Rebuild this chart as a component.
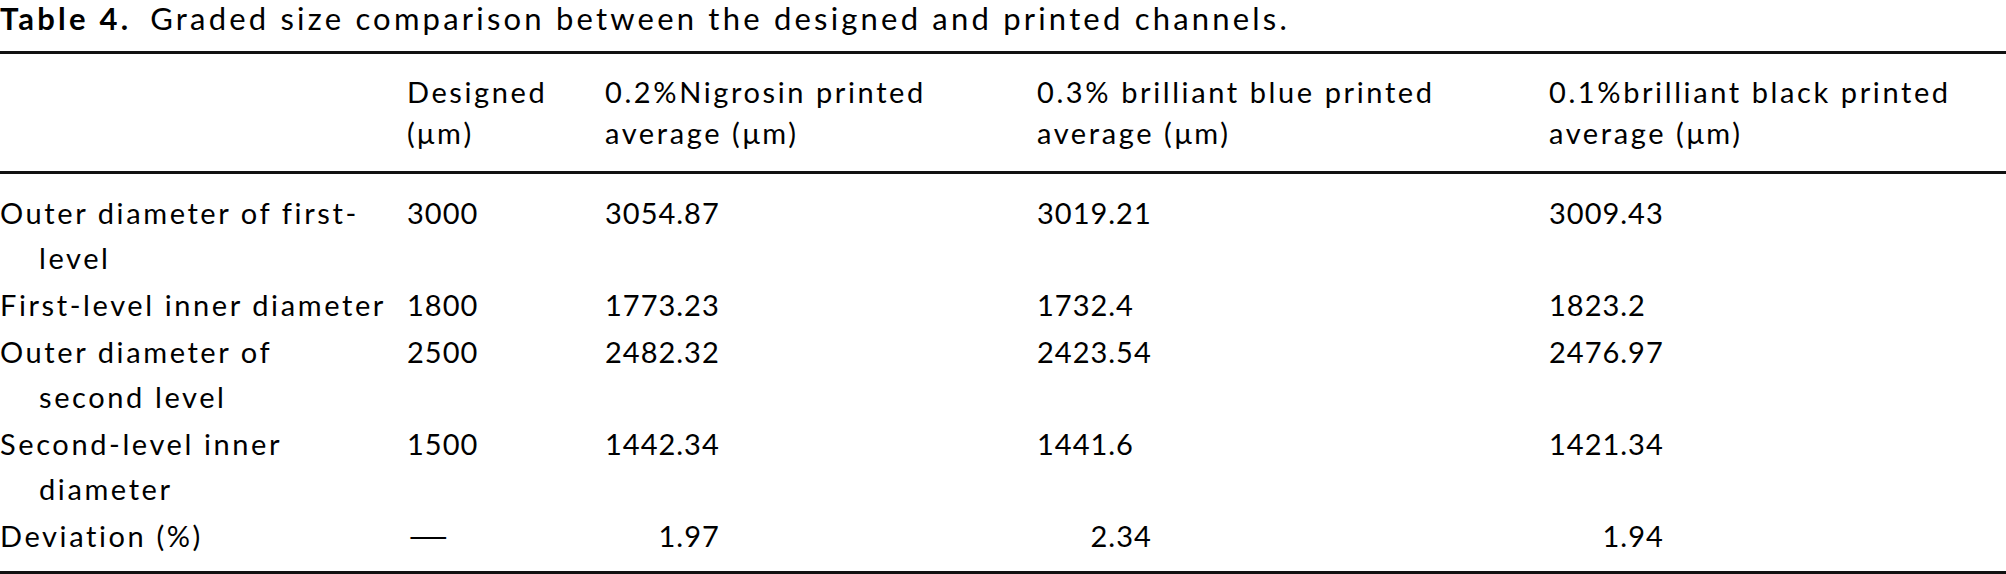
import React from "react";

// table content
const rowLabels = [
  ["Outer diameter of first-", "level"],
  ["First-level inner diameter"],
  ["Outer diameter of", "second level"],
  ["Second-level inner", "diameter"],
  ["Deviation (%)"],
];
const headers = [
  ["Designed", "(μm)"],
  ["0.2%Nigrosin printed", "average (μm)"],
  ["0.3% brilliant blue printed", "average (μm)"],
  ["0.1%brilliant black printed", "average (μm)"],
];
const designed = [3000, 1800, 2500, 1500, null];
const nigrosin = ["3054.87", "1773.23", "2482.32", "1442.34", "1.97"];
const brilliantBlue = ["3019.21", "1732.4", "2423.54", "1441.6", "2.34"];
const brilliantBlack = ["3009.43", "1823.2", "2476.97", "1421.34", "1.94"];

const COLS = "407px 198px 432px 512px 457px";
const FONT = "Lato, 'Gill Sans', 'Noto Sans', sans-serif";
const RULE = "3px solid #111";
const NUM: React.CSSProperties = { letterSpacing: 1 };

// the deviation row lines its decimal point up with the row above
function DecimalAligned({ value, above }: { value: string; above: string }) {
  const [int, frac] = value.split(".");
  const [aboveInt] = above.split(".");
  return (
    <span>
      <span style={{ display: "inline-grid" }}>
        <span style={{ gridArea: "1 / 1", visibility: "hidden" }}>{aboveInt}</span>
        <span style={{ gridArea: "1 / 1", textAlign: "right" }}>{int}</span>
      </span>
      {frac != null ? "." + frac : ""}
    </span>
  );
}

export default function App() {
  const valueCols = [designed.map(v => (v == null ? "—" : String(v))), nigrosin, brilliantBlue, brilliantBlack];
  const last = rowLabels.length - 1;

  return (
    <div
      style={{
        position: "absolute",
        left: 0,
        top: 0,
        width: 2006,
        height: 574,
        overflow: "hidden",
        background: "#fff",
        color: "#000",
        fontFamily: FONT,
        fontSize: 29,
        letterSpacing: 2.6,
      }}
    >
      <div style={{ fontSize: 31, lineHeight: "37.5px", letterSpacing: 3.2, whiteSpace: "nowrap" }}>
        <b>Table 4.</b>
        <span style={{ marginLeft: 19 }}>Graded size comparison between the designed and printed channels.</span>
      </div>

      {/* header */}
      <div
        style={{
          marginTop: 13.5,
          borderTop: RULE,
          borderBottom: RULE,
          paddingTop: 17,
          paddingBottom: 18,
          display: "grid",
          gridTemplateColumns: COLS,
          lineHeight: "41px",
          whiteSpace: "nowrap",
        }}
      >
        <div />
        {headers.map((h, i) => (
          <div key={i}>
            {h.map((line, j) => (
              <div key={j}>{line}</div>
            ))}
          </div>
        ))}
      </div>

      {/* body */}
      <div style={{ paddingTop: 15, paddingBottom: 12, borderBottom: RULE, lineHeight: "45px", whiteSpace: "nowrap" }}>
        {rowLabels.map((label, r) => (
          <div key={r} style={{ display: "grid", gridTemplateColumns: COLS, padding: "1px 0" }}>
            <div>
              {label.map((line, j) => (
                <div key={j} style={{ paddingLeft: j > 0 ? 39 : 0 }}>
                  {line}
                </div>
              ))}
            </div>
            {valueCols.map((col, c) => (
              <div key={c} style={NUM}>
                {r === last && c === 0 ? (
                  <span style={{ display: "inline-block", transform: "scaleX(1.85)", transformOrigin: "left center" }}>
                    {col[r]}
                  </span>
                ) : r === last ? (
                  <DecimalAligned value={col[r]} above={col[r - 1]} />
                ) : (
                  col[r]
                )}
              </div>
            ))}
          </div>
        ))}
      </div>
    </div>
  );
}
